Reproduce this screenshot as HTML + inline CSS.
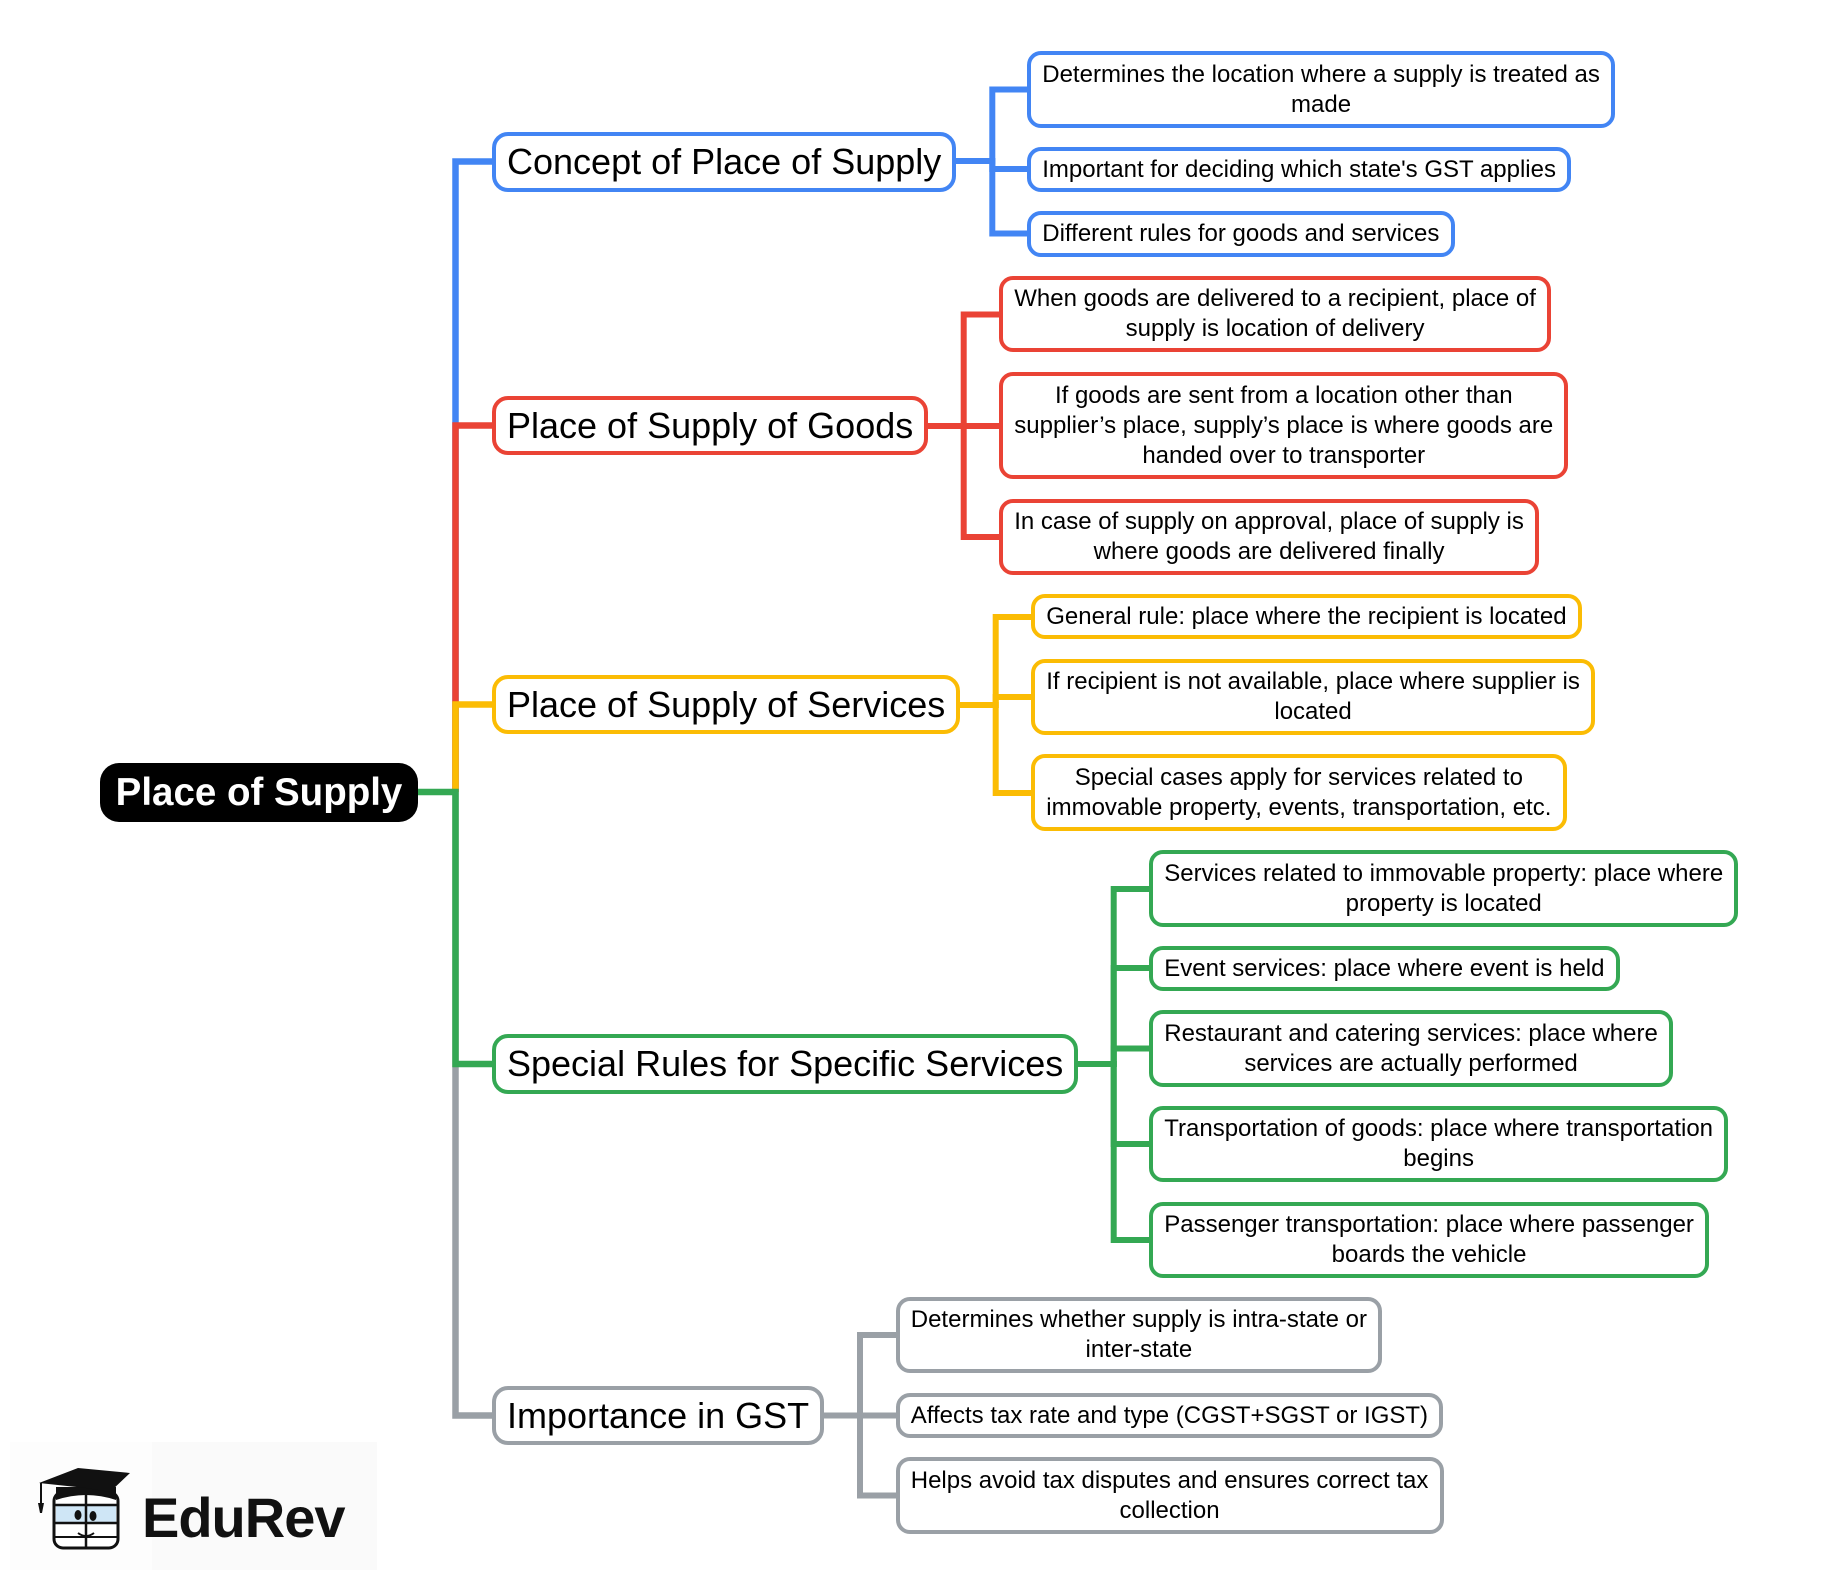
<!DOCTYPE html>
<html>
<head>
<meta charset="utf-8">
<style>
  html, body { margin:0; padding:0; background:#fff; }
  body { width:1840px; height:1585px; position:relative; overflow:hidden;
         font-family:"Liberation Sans", Arial, sans-serif; color:#000; }
  .n { position:absolute; box-sizing:border-box; border:4px solid; background:#fff;
       display:flex; align-items:center; justify-content:center; text-align:center;
       white-space:nowrap; }
  .m { border-radius:16px; font-size:36px; line-height:40px; padding:0 11px; }
  .s { border-radius:14px; font-size:24px; line-height:30px; padding:0 11.25px; }
  .b { border-color:#4285F4; }
  .r { border-color:#EA4335; }
  .y { border-color:#FBBC04; }
  .g { border-color:#34A853; }
  .k { border-color:#9AA0A6; }
  .root { position:absolute; left:100px; top:763px; width:318px; height:59px; background:#000;
          border-radius:19px; color:#fff; font-weight:bold; font-size:38.5px;
          display:flex; align-items:center; justify-content:center; white-space:nowrap; }
  svg { position:absolute; left:0; top:0; }
</style>
</head>
<body>

<svg width="1840" height="1585" viewBox="0 0 1840 1585">
  <g fill="none" stroke-width="6.5" stroke-linejoin="miter" stroke-linecap="butt">
    <path d="M455.5,792 V161.5 H494" stroke="#4285F4"/>
    <path d="M455.5,792 V425.5 H494" stroke="#EA4335"/>
    <path d="M455.5,792 V704.5 H494" stroke="#FBBC04"/>
    <path d="M455.5,792 V1415.5 H494" stroke="#9AA0A6"/>
    <path d="M416,792 H455.5 V1064 H494" stroke="#34A853"/>
  </g>
  <g fill="none" stroke-width="6" stroke-linejoin="miter" stroke-linecap="butt">
    <!-- blue -->
    <path d="M954,161 H992.3 V89.5 H1029" stroke="#4285F4"/>
    <path d="M954,161 H992.3 V169 H1029" stroke="#4285F4"/>
    <path d="M954,161 H992.3 V233.5 H1029" stroke="#4285F4"/>
    <!-- red -->
    <path d="M926,426 H963.7 V314.5 H1001" stroke="#EA4335"/>
    <path d="M926,426 H963.7 V426 H1001" stroke="#EA4335"/>
    <path d="M926,426 H963.7 V537 H1001" stroke="#EA4335"/>
    <!-- yellow -->
    <path d="M957,705 H995.7 V617 H1033" stroke="#FBBC04"/>
    <path d="M957,705 H995.7 V697 H1033" stroke="#FBBC04"/>
    <path d="M957,705 H995.7 V793 H1033" stroke="#FBBC04"/>
    <!-- green -->
    <path d="M1076,1064 H1113.7 V889 H1151" stroke="#34A853"/>
    <path d="M1076,1064 H1113.7 V968 H1151" stroke="#34A853"/>
    <path d="M1076,1064 H1113.7 V1048.5 H1151" stroke="#34A853"/>
    <path d="M1076,1064 H1113.7 V1144 H1151" stroke="#34A853"/>
    <path d="M1076,1064 H1113.7 V1240 H1151" stroke="#34A853"/>
    <!-- gray -->
    <path d="M822,1415.5 H860 V1335 H897.5" stroke="#9AA0A6"/>
    <path d="M822,1415.5 H860 V1415.5 H897.5" stroke="#9AA0A6"/>
    <path d="M822,1415.5 H860 V1495.5 H897.5" stroke="#9AA0A6"/>
  </g>

  <!-- EduRev logo -->
  <rect x="10" y="1442" width="367" height="128" fill="#fafafa"/>
  <rect x="10" y="1442" width="142" height="128" fill="#fdfdfd"/>
  <!-- face -->
  <rect x="54" y="1492" width="64" height="56" rx="9" ry="9" fill="#fff" stroke="#111" stroke-width="3"/>
  <rect x="56" y="1505" width="60" height="18" fill="#cfe6f6"/>
  <line x1="55" y1="1505" x2="117" y2="1505" stroke="#111" stroke-width="2.5"/>
  <line x1="55" y1="1523" x2="117" y2="1523" stroke="#111" stroke-width="2.5"/>
  <line x1="55" y1="1537" x2="117" y2="1537" stroke="#111" stroke-width="2"/>
  <line x1="86" y1="1492" x2="86" y2="1548" stroke="#111" stroke-width="2.5"/>
  <ellipse cx="78" cy="1515" rx="3.5" ry="5" fill="#111"/>
  <ellipse cx="93" cy="1516" rx="3.5" ry="5" fill="#111"/>
  <path d="M78,1533 Q86,1539 94,1533" fill="none" stroke="#111" stroke-width="2"/>
  <!-- cap -->
  <path d="M56,1487 L56,1500 Q86,1490 116,1500 L116,1487 Z" fill="#111"/>
  <polygon points="39,1483 78,1468 130,1473 110,1492 86,1488" fill="#111"/>
  <line x1="41" y1="1483" x2="41" y2="1505" stroke="#111" stroke-width="2"/>
  <path d="M38,1503 L44,1503 L42,1513 L40,1513 Z" fill="#111"/>
  <text x="142" y="1537" font-family="Liberation Sans, Arial, sans-serif" font-weight="bold" font-size="56" letter-spacing="-1" fill="#111">EduRev</text>
</svg>

<div class="root">Place of Supply</div>

<!-- Main nodes -->
<div class="n m b" style="left:492px;top:132px;height:60px;">Concept of Place of Supply</div>
<div class="n m r" style="left:492px;top:396px;height:59px;">Place of Supply of Goods</div>
<div class="n m y" style="left:492px;top:675px;height:59px;">Place of Supply of Services</div>
<div class="n m g" style="left:492px;top:1034px;height:60px;">Special Rules for Specific Services</div>
<div class="n m k" style="left:492px;top:1386px;height:59px;">Importance in GST</div>

<!-- Blue children -->
<div class="n s b" style="left:1027px;top:51px;height:77px;">Determines the location where a supply is treated as<br>made</div>
<div class="n s b" style="left:1027px;top:147px;height:45px;">Important for deciding which state's GST applies</div>
<div class="n s b" style="left:1027px;top:211px;height:46px;">Different rules for goods and services</div>

<!-- Red children -->
<div class="n s r" style="left:999px;top:276px;height:76px;">When goods are delivered to a recipient, place of<br>supply is location of delivery</div>
<div class="n s r" style="left:999px;top:372px;height:107px;">If goods are sent from a location other than<br>supplier’s place, supply’s place is where goods are<br>handed over to transporter</div>
<div class="n s r" style="left:999px;top:499px;height:76px;">In case of supply on approval, place of supply is<br>where goods are delivered finally</div>

<!-- Yellow children -->
<div class="n s y" style="left:1031px;top:594px;height:45px;">General rule: place where the recipient is located</div>
<div class="n s y" style="left:1031px;top:659px;height:76px;">If recipient is not available, place where supplier is<br>located</div>
<div class="n s y" style="left:1031px;top:754px;height:77px;">Special cases apply for services related to<br>immovable property, events, transportation, etc.</div>

<!-- Green children -->
<div class="n s g" style="left:1149px;top:850px;height:77px;">Services related to immovable property: place where<br>property is located</div>
<div class="n s g" style="left:1149px;top:946px;height:45px;">Event services: place where event is held</div>
<div class="n s g" style="left:1149px;top:1010px;height:77px;">Restaurant and catering services: place where<br>services are actually performed</div>
<div class="n s g" style="left:1149px;top:1106px;height:76px;">Transportation of goods: place where transportation<br>begins</div>
<div class="n s g" style="left:1149px;top:1202px;height:76px;">Passenger transportation: place where passenger<br>boards the vehicle</div>

<!-- Gray children -->
<div class="n s k" style="left:895.5px;top:1297px;height:76px;">Determines whether supply is intra-state or<br>inter-state</div>
<div class="n s k" style="left:895.5px;top:1393px;height:45px;">Affects tax rate and type (CGST+SGST or IGST)</div>
<div class="n s k" style="left:895.5px;top:1457px;height:77px;">Helps avoid tax disputes and ensures correct tax<br>collection</div>

</body>
</html>
